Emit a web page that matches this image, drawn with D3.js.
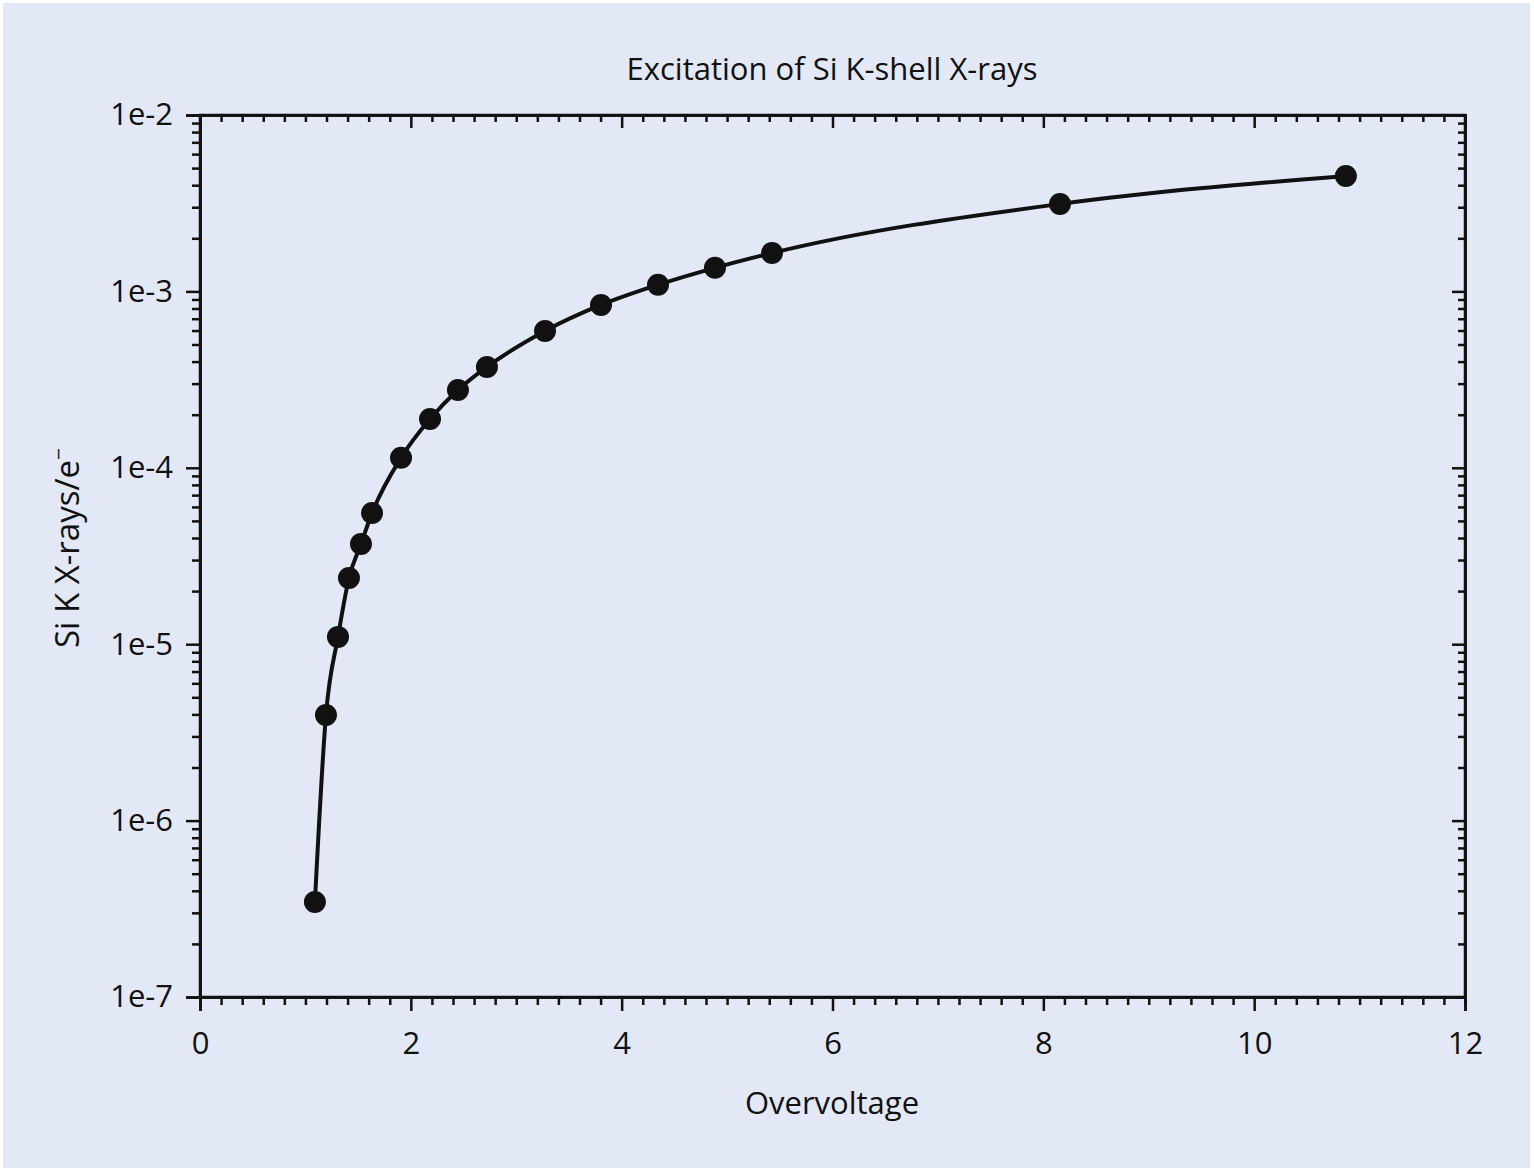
<!DOCTYPE html>
<html>
<head>
<meta charset="utf-8">
<script src="https://cdn.jsdelivr.net/npm/d3@7"></script>
<style>
  body { margin: 0; background: #fff; }
  svg { display: block; }
  text { font-family: "Open Sans", "Noto Sans", sans-serif; fill: #111; }
  .axis path, .axis line { stroke: #111; stroke-width: 2.5; }
</style>
</head>
<body>
<svg width="1534" height="1171"></svg>
<script>
// overvoltage U = E0 / Ec
var overvoltage = [1.09, 1.195, 1.309, 1.413, 1.527, 1.632, 1.907, 2.182, 2.447, 2.722, 3.273, 3.804, 4.345, 4.885, 5.426, 8.158, 10.87];
// Si K X-rays per electron
var xrays = [3.46e-7, 3.97e-6, 1.10e-5, 2.37e-5, 3.70e-5, 5.54e-5, 1.14e-4, 1.89e-4, 2.76e-4, 3.73e-4, 5.97e-4, 8.38e-4, 1.09e-3, 1.36e-3, 1.65e-3, 3.13e-3, 4.51e-3];

var xTicks = [0, 2, 4, 6, 8, 10, 12];
var yTicks = [1e-7, 1e-6, 1e-5, 1e-4, 1e-3, 1e-2];

var data = overvoltage.map(function(u, i) { return {u: u, n: xrays[i]}; });

var svg = d3.select("svg");
svg.append("rect")
    .attr("x", 3).attr("y", 3)
    .attr("width", 1527).attr("height", 1165)
    .attr("fill", "#e2e8f6");

var mLeft = 200, mRight = 1465, mTop = 115, mBottom = 997;

var x = d3.scaleLinear().domain([0, 12]).range([mLeft, mRight]);
var y = d3.scaleLog().domain([1e-7, 1e-2]).range([mBottom, mTop]);

var xMinor = d3.range(0, 12.001, 0.2).filter(function(v) { return Math.abs(v / 2 - Math.round(v / 2)) > 1e-6; });
var yMinor = [];
yTicks.slice(0, -1).forEach(function(t) {
  for (var k = 2; k <= 9; k++) yMinor.push(t * k);
});

function fmtExp(d) { return "1e" + Math.round(Math.log10(d)); }

// minor ticks
svg.append("g").attr("class", "axis").attr("transform", "translate(0," + mBottom + ")")
    .call(d3.axisBottom(x).tickValues(xMinor).tickSize(8).tickFormat(""));
svg.append("g").attr("class", "axis").attr("transform", "translate(0," + mTop + ")")
    .call(d3.axisTop(x).tickValues(xMinor).tickSize(-7).tickFormat(""));
svg.append("g").attr("class", "axis").attr("transform", "translate(" + mLeft + ",0)")
    .call(d3.axisLeft(y).tickValues(yMinor).tickSize(8).tickFormat(""));
svg.append("g").attr("class", "axis").attr("transform", "translate(" + mRight + ",0)")
    .call(d3.axisRight(y).tickValues(yMinor).tickSize(-7).tickFormat(""));

// major ticks
svg.append("g").attr("class", "axis").attr("transform", "translate(0," + mBottom + ")")
    .call(d3.axisBottom(x).tickValues(xTicks).tickSize(14).tickPadding(21).tickFormat(d3.format("d")));
svg.append("g").attr("class", "axis").attr("transform", "translate(0," + mTop + ")")
    .call(d3.axisTop(x).tickValues(xTicks).tickSize(-13).tickFormat(""));
svg.append("g").attr("class", "axis").attr("transform", "translate(" + mLeft + ",0)")
    .call(d3.axisLeft(y).tickValues(yTicks).tickSize(14).tickPadding(13).tickFormat(fmtExp));
svg.append("g").attr("class", "axis").attr("transform", "translate(" + mRight + ",0)")
    .call(d3.axisRight(y).tickValues(yTicks).tickSize(-13).tickFormat(""));

svg.selectAll(".axis text")
    .style("font-size", "31px")
    .style("font-family", "'Open Sans', 'Noto Sans', sans-serif")
    .attr("fill", "#111");

// frame
svg.append("rect")
    .attr("x", mLeft).attr("y", mTop)
    .attr("width", mRight - mLeft).attr("height", mBottom - mTop)
    .attr("fill", "none").attr("stroke", "#111").attr("stroke-width", 2.5);

var line = d3.line()
    .x(function(d) { return x(d.u); })
    .y(function(d) { return y(d.n); })
    .curve(d3.curveMonotoneX);

svg.append("path")
    .datum(data)
    .attr("d", line)
    .attr("fill", "none")
    .attr("stroke", "#111")
    .attr("stroke-width", 4);

svg.selectAll(".dot")
    .data(data)
  .enter().append("circle")
    .attr("class", "dot")
    .attr("cx", function(d) { return x(d.u); })
    .attr("cy", function(d) { return y(d.n); })
    .attr("r", 11)
    .attr("fill", "#111");

svg.append("text")
    .attr("x", 832).attr("y", 80)
    .attr("text-anchor", "middle")
    .style("font-size", "31px")
    .text("Excitation of Si K-shell X-rays");

svg.append("text")
    .attr("x", 832).attr("y", 1114)
    .attr("text-anchor", "middle")
    .style("font-size", "31px")
    .text("Overvoltage");

var yt = svg.append("text")
    .attr("transform", "translate(79,548) rotate(-90)")
    .attr("text-anchor", "middle")
    .style("font-size", "33px");
yt.append("tspan").text("Si K X-rays/e");
yt.append("tspan").attr("dy", "-0.6em").style("font-size", "21px").text("\u2212");
</script>
</body>
</html>
